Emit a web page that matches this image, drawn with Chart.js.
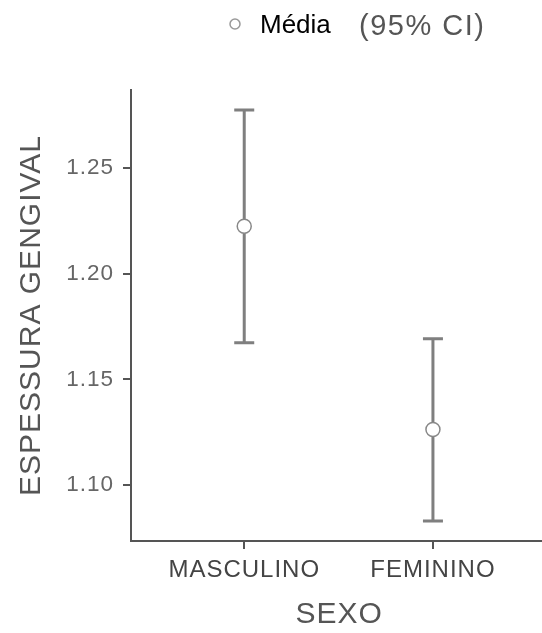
<!DOCTYPE html>
<html>
<head>
<meta charset="utf-8">
<script src="https://cdn.jsdelivr.net/npm/chart.js@4"></script>
<style>
  html, body { margin: 0; padding: 0; background: #fff; overflow: hidden; }
  #wrap { width: 556px; height: 633px; }
</style>
</head>
<body>
<div id="wrap"><canvas id="errChart" width="556" height="633"></canvas></div>
<script>
// data
var categories = ['MASCULINO', 'FEMININO'];
var catPos = [0, 1];
var meanValues = [1.2225, 1.1263];
var lowerCI = [1.1673, 1.0830];
var upperCI = [1.2775, 1.1693];
var yTicks = [1.10, 1.15, 1.20, 1.25];

var axisGray = '#555555';
var barGray = '#7f7f7f';
var fontFam = '"Liberation Sans", Arial, sans-serif';

// spacing for canvas text, set before layout and before drawing
var spacingPlugin = {
    id: 'spacing',
    beforeUpdate: function(chart) { chart.ctx.letterSpacing = '1px'; },
    beforeDraw: function(chart) { chart.ctx.letterSpacing = '1px'; }
};

// vertical CI bars with caps, drawn under the mean points
var errorBars = {
    id: 'errorBars',
    beforeDatasetsDraw: function(chart) {
        var ctx = chart.ctx;
        var xs = chart.scales.x, ys = chart.scales.y;
        ctx.save();
        ctx.strokeStyle = barGray;
        ctx.lineWidth = 3;
        for (var i = 0; i < catPos.length; i++) {
            var px = xs.getPixelForValue(catPos[i]);
            var top = ys.getPixelForValue(upperCI[i]);
            var bot = ys.getPixelForValue(lowerCI[i]);
            ctx.beginPath();
            ctx.moveTo(px, top); ctx.lineTo(px, bot);
            ctx.moveTo(px - 10, top); ctx.lineTo(px + 10, top);
            ctx.moveTo(px - 10, bot); ctx.lineTo(px + 10, bot);
            ctx.stroke();
        }
        ctx.restore();
    }
};

// legend at the top: marker, "Média", "(95% CI)"
var topLegend = {
    id: 'topLegend',
    afterDraw: function(chart) {
        var ctx = chart.ctx;
        ctx.save();
        ctx.beginPath();
        ctx.arc(235, 24, 5, 0, Math.PI * 2);
        ctx.fillStyle = '#fff';
        ctx.fill();
        ctx.strokeStyle = '#999';
        ctx.lineWidth = 1.5;
        ctx.stroke();
        ctx.textBaseline = 'alphabetic';
        ctx.textAlign = 'left';
        ctx.letterSpacing = '0px';
        ctx.font = '26px ' + fontFam;
        ctx.fillStyle = '#000';
        ctx.fillText('Média', 260, 33);
        ctx.letterSpacing = '1.5px';
        ctx.font = '29px ' + fontFam;
        ctx.fillStyle = '#555';
        ctx.fillText('(95% CI)', 359, 35);
        ctx.restore();
    }
};

var points = catPos.map(function(x, i) { return { x: x, y: meanValues[i] }; });

new Chart(document.getElementById('errChart').getContext('2d'), {
    type: 'scatter',
    data: {
        datasets: [{
            label: 'Média',
            data: points,
            pointRadius: 7,
            pointHoverRadius: 7,
            pointBackgroundColor: '#ffffff',
            pointBorderColor: '#888888',
            pointBorderWidth: 1.5
        }]
    },
    options: {
        responsive: false,
        animation: false,
        events: [],
        layout: { padding: { top: 90, right: 0, left: 0, bottom: 0 } },
        plugins: {
            legend: { display: false },
            tooltip: { enabled: false }
        },
        scales: {
            x: {
                type: 'linear',
                min: -0.6,
                max: 1.607,
                afterFit: function(scale) { scale.height = 92; },
                afterBuildTicks: function(scale) {
                    scale.ticks = catPos.map(function(v) { return { value: v }; });
                },
                grid: { drawOnChartArea: false, color: axisGray, lineWidth: 2, tickLength: 8 },
                border: { color: axisGray, width: 2 },
                ticks: {
                    autoSkip: false,
                    maxRotation: 0,
                    padding: 7,
                    color: '#444',
                    font: { family: fontFam, size: 24 },
                    callback: function(v) { return categories[v]; }
                },
                title: {
                    display: true,
                    text: 'SEXO',
                    color: axisGray,
                    padding: { top: 0, bottom: 0 },
                    font: { family: fontFam, size: 30 }
                }
            },
            y: {
                min: 1.0735,
                max: 1.287,
                afterFit: function(scale) { scale.width = 131; },
                afterBuildTicks: function(scale) {
                    scale.ticks = yTicks.map(function(v) { return { value: v }; });
                },
                grid: { drawOnChartArea: false, color: axisGray, lineWidth: 2, tickLength: 8 },
                border: { color: axisGray, width: 2 },
                ticks: {
                    padding: 9,
                    color: '#666',
                    font: { family: fontFam, size: 22.5 },
                    callback: function(v) { return v.toFixed(2); }
                },
                title: {
                    display: true,
                    text: 'ESPESSURA GENGIVAL',
                    color: axisGray,
                    padding: { top: 14, bottom: 0 },
                    font: { family: fontFam, size: 30 }
                }
            }
        }
    },
    plugins: [spacingPlugin, errorBars, topLegend]
});
</script>
</body>
</html>
